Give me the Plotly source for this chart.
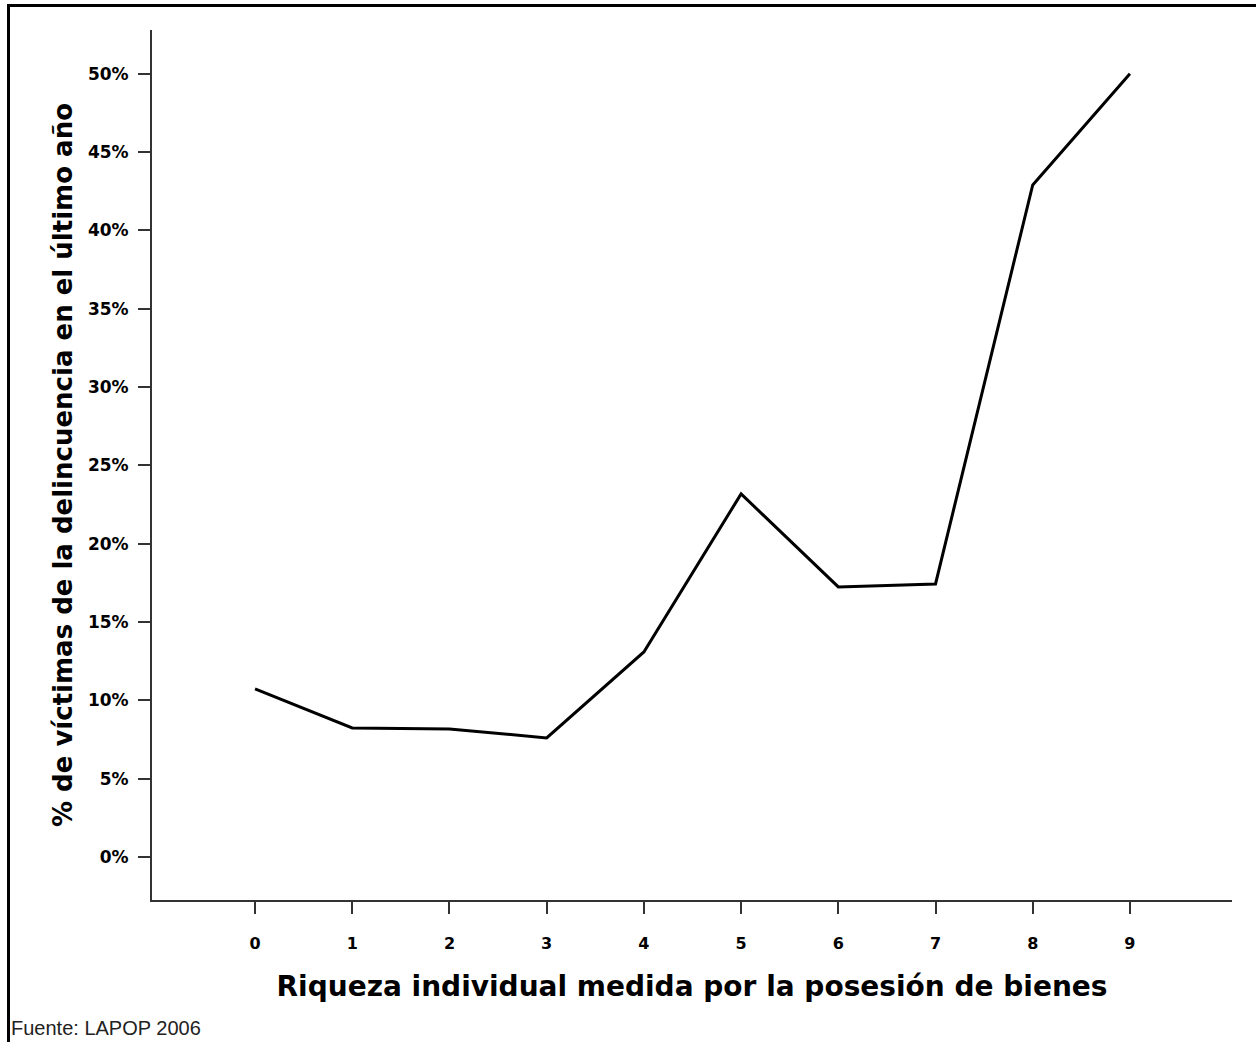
import plotly.graph_objects as go

riqueza = [0, 1, 2, 3, 4, 5, 6, 7, 8, 9]
victimas = [10.73, 8.24, 8.17, 7.60, 13.09, 23.18, 17.24, 17.43, 42.91, 50.0]
y_ticks = [0, 5, 10, 15, 20, 25, 30, 35, 40, 45, 50]
y_ticklabels = [f"{v}%" for v in y_ticks]

W, H = 1256, 1042
L, R, T, B = 152, 24, 30, 142
PW, PH = W - L - R, H - T - B


def px_x(p):
    return (p - L) / PW


def px_y(p):
    return (H - B - p) / PH


fig = go.Figure()
fig.add_trace(go.Scatter(
    x=riqueza, y=victimas, mode="lines",
    line=dict(color="black", width=3),
    hoverinfo="skip", showlegend=False,
))

bold = "DejaVu Sans"
fig.update_layout(
    width=W, height=H,
    paper_bgcolor="white", plot_bgcolor="white",
    margin=dict(l=L, r=R, t=T, b=B),
    font=dict(family="Liberation Sans, Arial", color="black"),
    xaxis=dict(
        range=[-1.06, 10.05], tickmode="array", tickvals=riqueza,
        ticktext=[str(v) for v in riqueza],
        showline=True, linecolor="#333333", linewidth=2,
        ticks="outside", ticklen=12, tickwidth=2, tickcolor="#333333",
        showgrid=False, zeroline=False,
        tickfont=dict(family=bold, size=16, color="black", weight="bold"),
        ticklabelstandoff=16,
        title=dict(text="<b>Riqueza individual medida por la posesión de bienes</b>",
                   font=dict(family=bold, size=28, color="black"), standoff=24),
    ),
    yaxis=dict(
        range=[-2.75, 52.8], tickmode="array", tickvals=y_ticks, ticktext=y_ticklabels,
        showline=True, linecolor="#333333", linewidth=2,
        ticks="outside", ticklen=12, tickwidth=2, tickcolor="#333333",
        showgrid=False, zeroline=False,
        tickfont=dict(family=bold, size=17, color="black", weight="bold"),
        ticklabelstandoff=6,
        title=dict(text="<b>% de víctimas de la delincuencia en el último año</b>",
                   font=dict(family=bold, size=26, color="black"), standoff=8),
    ),
    annotations=[
        dict(text="Fuente: LAPOP 2006", xref="paper", yref="paper",
             x=px_x(9), y=px_y(1028), xanchor="left", yanchor="middle",
             showarrow=False, font=dict(family="Liberation Sans, Arial", size=20, color="#222222")),
    ],
)
# frame lines (top and left)
fig.add_shape(type="line", xref="paper", yref="paper",
              x0=px_x(8), x1=px_x(1258), y0=px_y(5.5), y1=px_y(5.5),
              line=dict(color="black", width=3))
fig.add_shape(type="line", xref="paper", yref="paper",
              x0=px_x(8.5), x1=px_x(8.5), y0=px_y(1045), y1=px_y(4),
              line=dict(color="black", width=3))

fig.write_html("out.html", config={"displayModeBar": False},
               post_script="document.body.style.margin='0';document.body.style.overflow='hidden';")
